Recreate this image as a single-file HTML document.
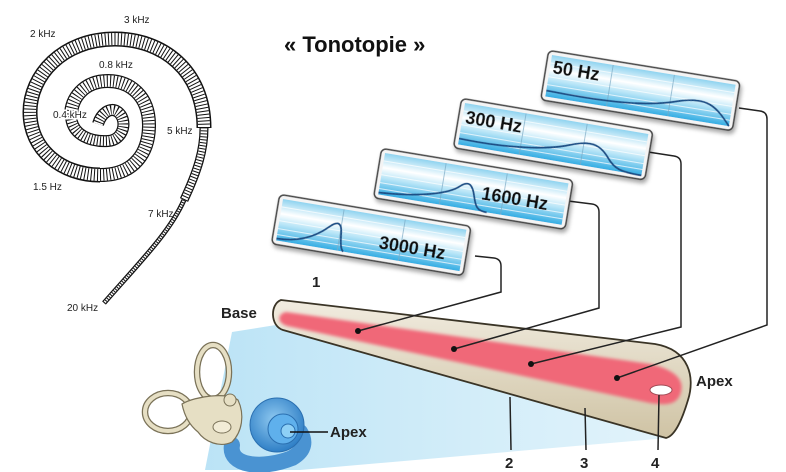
<!DOCTYPE html>
<html><head><meta charset="utf-8"><style>
html,body{margin:0;padding:0;background:#fff;}
svg{display:block;}
text{font-family:"Liberation Sans",Arial,sans-serif;}
</style></head><body>
<svg width="786" height="472" viewBox="0 0 786 472" xmlns="http://www.w3.org/2000/svg">
<defs>
<linearGradient id="pg" x1="0" y1="0" x2="0" y2="1">
<stop offset="0" stop-color="#8fd3f0"/><stop offset="0.35" stop-color="#ffffff"/><stop offset="0.6" stop-color="#b8e5f7"/><stop offset="1" stop-color="#35ade3"/>
</linearGradient>
<linearGradient id="cone" x1="0" y1="0" x2="1" y2="0">
<stop offset="0" stop-color="#b3e0f5" stop-opacity="0.9"/><stop offset="1" stop-color="#d5eef9" stop-opacity="0.7"/>
</linearGradient>
<linearGradient id="tube" x1="0" y1="0" x2="0" y2="1">
<stop offset="0" stop-color="#f1ece0"/><stop offset="1" stop-color="#cfc3a4"/>
</linearGradient>
<radialGradient id="coch" cx="0.45" cy="0.4" r="0.6">
<stop offset="0" stop-color="#8fc9f0"/><stop offset="1" stop-color="#2f7fc6"/>
</radialGradient>
<filter id="sh" x="-10%" y="-20%" width="130%" height="150%"><feDropShadow dx="2" dy="3" stdDeviation="2" flood-color="#000" flood-opacity="0.35"/></filter>
<filter id="glow" x="-10%" y="-20%" width="120%" height="140%"><feGaussianBlur stdDeviation="1.5"/></filter>
<g id="grid">
<rect x="0" y="0" width="186" height="42" fill="url(#pg)"/>
<g stroke="#ffffff" stroke-opacity="0.7" stroke-width="1">
<line x1="0" y1="8" x2="186" y2="8"/><line x1="0" y1="15" x2="186" y2="15"/><line x1="0" y1="22" x2="186" y2="22"/><line x1="0" y1="30" x2="186" y2="30"/><line x1="0" y1="36" x2="186" y2="36"/>
</g>
<g stroke="#7aa9c4" stroke-width="0.7"><line x1="62" y1="0" x2="62" y2="42"/><line x1="124" y1="0" x2="124" y2="42"/></g>
</g>
</defs>

<!-- Spiral -->
<g fill="none" stroke-linecap="butt">
<path d="M104,303 C140,262 170,232 184,200" stroke="#111" stroke-width="5"/>
<path d="M104,303 C140,262 170,232 184,200" stroke="#fff" stroke-width="2.5"/>
<path d="M104,303 C140,262 170,232 184,200" stroke="#111" stroke-width="2.5" stroke-dasharray="1 1.5"/>
<path d="M184,200 C198,170 204,150 204,128" stroke="#111" stroke-width="9"/>
<path d="M184,200 C198,170 204,150 204,128" stroke="#fff" stroke-width="6.5"/>
<path d="M184,200 C198,170 204,150 204,128" stroke="#111" stroke-width="6.5" stroke-dasharray="1 2"/>
<path d="M204,128 C204,70 162,39 115,39 C62,39 30,76 30,112 C30,150 62,175 100,175" stroke="#111" stroke-width="15"/>
<path d="M204,128 C204,70 162,39 115,39 C62,39 30,76 30,112 C30,150 62,175 100,175" stroke="#fff" stroke-width="12"/>
<path d="M204,128 C204,70 162,39 115,39 C62,39 30,76 30,112 C30,150 62,175 100,175" stroke="#111" stroke-width="12" stroke-dasharray="1 2.2"/>
<path d="M100,175 C135,175 149,152 149,125 C149,96 130,81 108,81 C84,81 71,98 71,116" stroke="#111" stroke-width="14"/>
<path d="M100,175 C135,175 149,152 149,125 C149,96 130,81 108,81 C84,81 71,98 71,116" stroke="#fff" stroke-width="11.5"/>
<path d="M100,175 C135,175 149,152 149,125 C149,96 130,81 108,81 C84,81 71,98 71,116" stroke="#111" stroke-width="11.5" stroke-dasharray="1 2.2"/>
<path d="M71,116 C72,136 92,142 108,141 C124,140 128,120 118,112 C110,106 101,114 98,124" stroke="#111" stroke-width="12"/>
<path d="M71,116 C72,136 92,142 108,141 C124,140 128,120 118,112 C110,106 101,114 98,124" stroke="#fff" stroke-width="9.5"/>
<path d="M71,116 C72,136 92,142 108,141 C124,140 128,120 118,112 C110,106 101,114 98,124" stroke="#111" stroke-width="9.5" stroke-dasharray="1 2"/>
</g>
<g font-size="10" fill="#222">
<text x="30" y="37">2 kHz</text><text x="124" y="23">3 kHz</text><text x="99" y="68">0.8 kHz</text>
<text x="53" y="118" paint-order="stroke" stroke="#fff" stroke-width="3">0.4 kHz</text><text x="167" y="134">5 kHz</text><text x="33" y="190">1.5 Hz</text>
<text x="148" y="217">7 kHz</text><text x="67" y="311">20 kHz</text>
</g>

<text x="284" y="52" font-size="22" font-weight="bold" fill="#111">« Tonotopie »</text>

<!-- light cone -->
<polygon points="232,332 282,324 668,438 300,470 205,470" fill="url(#cone)"/>

<!-- inner ear -->
<g>
<path d="M232,445 C228,466 262,470 292,458 C306,450 305,440 300,432" fill="none" stroke="#4a93d2" stroke-width="16" stroke-linecap="round"/>
<circle cx="277" cy="425" r="27" fill="url(#coch)" stroke="#2a6fb0" stroke-width="1"/>
<circle cx="283" cy="429" r="15" fill="#5fb0ec" stroke="#2a6fb0" stroke-width="1"/>
<circle cx="288" cy="431" r="7" fill="#8ed0f6" stroke="#2a6fb0" stroke-width="1"/>
<ellipse cx="213" cy="372" rx="16" ry="27" fill="none" stroke="#7a7258" stroke-width="6.5"/>
<ellipse cx="213" cy="372" rx="16" ry="27" fill="none" stroke="#e6dfc4" stroke-width="4"/>
<ellipse cx="168" cy="412" rx="23" ry="19" fill="none" stroke="#7a7258" stroke-width="6.5"/>
<ellipse cx="168" cy="412" rx="23" ry="19" fill="none" stroke="#e6dfc4" stroke-width="4"/>
<path d="M182,404 C195,396 228,392 238,400 C245,415 242,432 232,442 C220,448 205,442 198,432 C188,424 184,414 182,404 Z" fill="#e6dfc4" stroke="#7a7258" stroke-width="1.2"/>
<circle cx="230" cy="400" r="6" fill="#e6dfc4" stroke="#7a7258" stroke-width="1"/>
<ellipse cx="222" cy="427" rx="9" ry="6" fill="#f2ecd6" stroke="#7a7258" stroke-width="1"/>
<line x1="290" y1="432" x2="328" y2="432" stroke="#111" stroke-width="1.5"/>
<text x="330" y="437" font-size="15" font-weight="bold" fill="#222">Apex</text>
</g>

<!-- tube -->
<path d="M281,300 L655,344 C690,350 695,378 688,400 C682,420 675,436 666,438 L283,330 C270,326 270,304 281,300 Z" fill="url(#tube)" stroke="#3a3426" stroke-width="1.8"/>
<path d="M286,312 L650,364 C676,370 684,380 681,392 C678,404 668,406 650,403 L287,326 C277,323 277,314 286,312 Z" fill="#f06878" filter="url(#glow)"/>
<ellipse cx="661" cy="390" rx="11" ry="5" fill="#fff" stroke="#a04a55" stroke-width="1"/>

<!-- connectors -->
<g fill="none" stroke="#222" stroke-width="1.5">
<path d="M475,256 L494,258 Q501,259 501,266 L501,292 L358,331"/>
<path d="M568,201 L592,204 Q599,205 599,212 L599,308 L454,349"/>
<path d="M648,152 L674,156 Q681,157 681,164 L681,327 L531,364"/>
<path d="M739,108 L760,111 Q767,112 767,119 L767,325 L617,378"/>
<line x1="510" y1="397" x2="511" y2="450"/><line x1="585" y1="408" x2="586" y2="450"/><line x1="659" y1="395" x2="658" y2="450"/>
</g>
<g fill="#111"><circle cx="358" cy="331" r="3"/><circle cx="454" cy="349" r="3"/><circle cx="531" cy="364" r="3"/><circle cx="617" cy="378" r="3"/></g>

<g font-weight="bold" fill="#222" font-size="15">
<text x="221" y="318">Base</text><text x="312" y="287">1</text><text x="696" y="386">Apex</text>
<text x="505" y="468">2</text><text x="580" y="468">3</text><text x="651" y="468">4</text>
</g>

<!-- panels -->
<g transform="translate(552,55) rotate(9.2)" filter="url(#sh)">
<rect x="-4" y="-4" width="194" height="50" rx="5" fill="#f4f4f4" stroke="#444" stroke-width="1.5"/>
<use href="#grid"/>
<path d="M0,36 C60,38 100,36 130,26 C160,16 170,24 186,42" fill="none" stroke="#1f4f86" stroke-width="1.8"/>
<text x="3" y="18" font-size="18" font-weight="bold" fill="#111">50 Hz</text>
</g>
<g transform="translate(465,103) rotate(9.6)" filter="url(#sh)">
<rect x="-4" y="-4" width="194" height="50" rx="5" fill="#f4f4f4" stroke="#444" stroke-width="1.5"/>
<use href="#grid"/>
<path d="M0,36 C50,38 90,32 110,24 C130,16 140,18 150,30 C158,40 165,42 186,42" fill="none" stroke="#1f4f86" stroke-width="1.8"/>
<text x="3" y="20" font-size="18" font-weight="bold" fill="#111">300 Hz</text>
</g>
<g transform="translate(385,153) rotate(9.4)" filter="url(#sh)">
<rect x="-4" y="-4" width="194" height="50" rx="5" fill="#f4f4f4" stroke="#444" stroke-width="1.5"/>
<use href="#grid"/>
<path d="M0,40 C40,38 70,30 80,20 C88,13 92,18 95,28 C98,38 100,42 110,42" fill="none" stroke="#1f4f86" stroke-width="1.8"/>
<text x="102" y="30" font-size="18" font-weight="bold" fill="#111">1600 Hz</text>
</g>
<g transform="translate(283,199) rotate(9.5)" filter="url(#sh)">
<rect x="-4" y="-4" width="194" height="50" rx="5" fill="#f4f4f4" stroke="#444" stroke-width="1.5"/>
<use href="#grid"/>
<path d="M0,40 C25,40 40,30 50,20 C58,12 62,14 63,24 C64,34 65,40 68,42" fill="none" stroke="#1f4f86" stroke-width="1.8"/>
<text x="102" y="33" font-size="18" font-weight="bold" fill="#111">3000 Hz</text>
</g>
</svg>
</body></html>
